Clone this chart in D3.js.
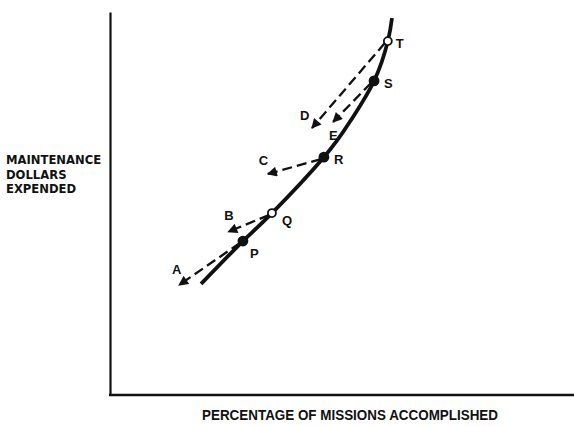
<!DOCTYPE html>
<html><head><meta charset="utf-8">
<script src="https://cdn.jsdelivr.net/npm/d3@7/dist/d3.min.js"></script>
<style>
html,body{margin:0;padding:0;background:#fff;}
svg{display:block;}
text{font-weight:bold;fill:#111;}
</style></head>
<body><svg id="c" width="574" height="426"></svg>
<script>
// Curve: maintenance dollars vs percentage of missions accomplished (schematic, 0-100 units)
const curveX = [19.8, 28.9, 35.2, 46.5, 52.4, 57.4, 60.4, 61.3];
const curveY = [29.0, 40.2, 47.5, 62.1, 71.8, 82.0, 92.4, 98.4];
// Operating points on the curve
const pointNames = ["P", "Q", "R", "S", "T"];
const pointX = [28.9, 35.2, 46.5, 57.4, 60.4];
const pointY = [40.2, 47.5, 62.1, 82.0, 92.4];
const pointFilled = [true, false, true, true, false];
// Dashed arrows: from a curve point to an alternative
const arrowNames = ["A", "B", "C", "D", "E"];
const arrowFrom = ["P", "Q", "R", "T", "S"];
const arrowToX = [15.0, 25.7, 34.3, 43.9, 48.5];
const arrowToY = [28.7, 42.6, 57.7, 69.7, 71.3];
const xTitle = "PERCENTAGE OF MISSIONS ACCOMPLISHED";
const yTitle = ["MAINTENANCE", "DOLLARS", "EXPENDED"];

const svg = d3.select("#c");
const x = d3.scaleLinear().domain([0, 100]).range([110, 570]);
const y = d3.scaleLinear().domain([0, 100]).range([395, 12]);

// axes (no ticks)
svg.append("g").attr("transform", `translate(0,${y(0)})`)
  .call(d3.axisBottom(x).ticks(0).tickSizeOuter(0))
  .call(g => g.select(".domain").attr("stroke", "#111").attr("stroke-width", 2.5).attr("d", `M${x(0)-1},0H574`));
svg.append("g").attr("transform", `translate(${x(0)},0)`)
  .call(d3.axisLeft(y).ticks(0).tickSizeOuter(0))
  .call(g => g.select(".domain").attr("stroke", "#111").attr("stroke-width", 2.2));

// titles
svg.append("text").attr("x", 350).attr("y", 420).attr("text-anchor", "middle")
  .attr("font-family", "'Liberation Sans',Arial,sans-serif")
  .attr("font-size", 15).attr("textLength", 296).attr("lengthAdjust", "spacingAndGlyphs").text(xTitle);
svg.append("g").selectAll("text").data(yTitle).join("text")
  .attr("font-family", "'DejaVu Sans',sans-serif")
  .attr("x", 6).attr("y", (d, i) => 164 + i * 14.5).attr("font-size", 11.6).text(d => d);

// defs arrowhead
svg.append("defs").append("marker").attr("id", "ah")
  .attr("viewBox", "0 0 10 10").attr("refX", 9).attr("refY", 5)
  .attr("markerWidth", 11).attr("markerHeight", 10).attr("markerUnits", "userSpaceOnUse")
  .attr("orient", "auto")
  .append("path").attr("d", "M0,0L10,5L0,10Z").attr("fill", "#111");

// arrows
const idx = n => pointNames.indexOf(n);
svg.append("g").selectAll("line").data(arrowNames).join("line")
  .attr("x1", (d, i) => x(pointX[idx(arrowFrom[i])]) - 3)
  .attr("y1", (d, i) => y(pointY[idx(arrowFrom[i])]) + 2)
  .attr("x2", (d, i) => x(arrowToX[i]))
  .attr("y2", (d, i) => y(arrowToY[i]))
  .attr("stroke", "#111").attr("stroke-width", 2.3).attr("stroke-dasharray", "10,5")
  .attr("marker-end", "url(#ah)");

// curve
const line = d3.line().x(d => x(d[0])).y(d => y(d[1])).curve(d3.curveNatural);
svg.append("path").datum(curveX.map((v, i) => [v, curveY[i]]))
  .attr("d", line).attr("fill", "none").attr("stroke", "#111").attr("stroke-width", 3.8);

// points
svg.append("g").selectAll("circle").data(pointNames).join("circle")
  .attr("cx", (d, i) => x(pointX[i])).attr("cy", (d, i) => y(pointY[i]))
  .attr("r", (d, i) => pointFilled[i] ? 4.5 : 4).attr("fill", (d, i) => pointFilled[i] ? "#111" : "#fff")
  .attr("stroke", "#111").attr("stroke-width", 1.8);

// point labels
const plOff = {P: [7, 17], Q: [10, 12], R: [10, 7], S: [10, 7], T: [8, 7]};
const lblFont = "'Liberation Sans',Arial,sans-serif";
svg.append("g").selectAll("text").data(pointNames).join("text")
  .attr("font-family", lblFont)
  .attr("x", (d, i) => x(pointX[i]) + plOff[d][0]).attr("y", (d, i) => y(pointY[i]) + plOff[d][1])
  .attr("font-size", 13).text(d => d);

// arrow labels
const alOff = {A: [-7, -11], B: [-4, -12], C: [-9, -9], D: [-12, -8], E: [-4, 18]};
svg.append("g").selectAll("text").data(arrowNames).join("text")
  .attr("font-family", lblFont)
  .attr("x", (d, i) => x(arrowToX[i]) + alOff[d][0]).attr("y", (d, i) => y(arrowToY[i]) + alOff[d][1])
  .attr("font-size", 13).text(d => d);
</script></body></html>
